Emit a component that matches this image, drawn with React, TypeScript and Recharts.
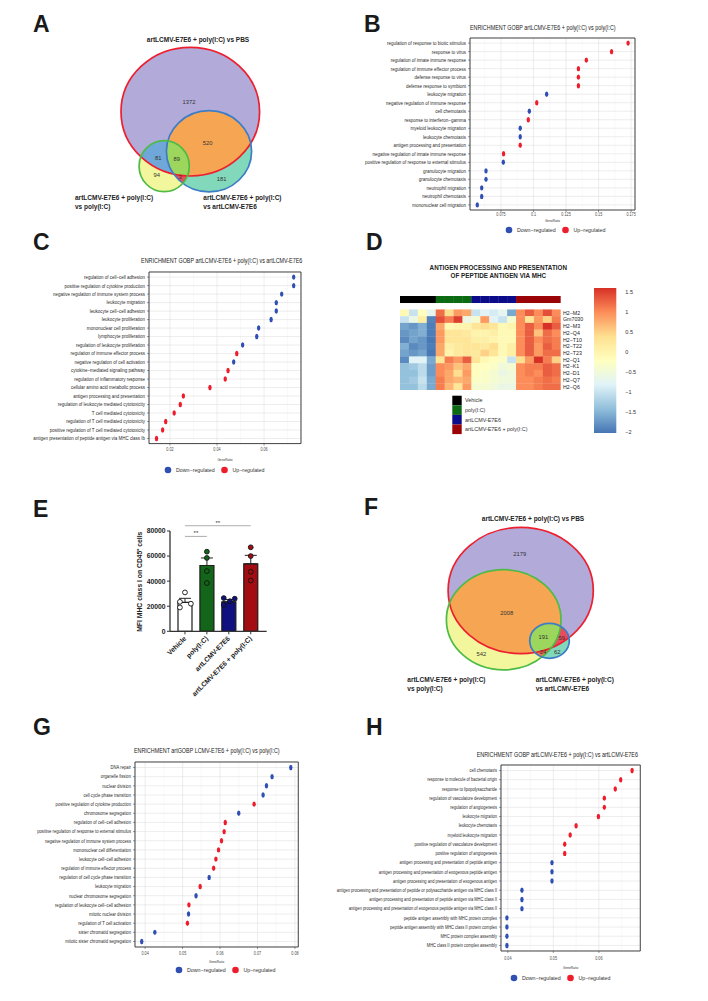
import React from "react";
import {
  ScatterChart,
  Scatter,
  ComposedChart,
  Bar,
  Cell,
  ErrorBar,
  XAxis,
  YAxis,
  CartesianGrid,
  ReferenceArea,
  ReferenceLine,
  Legend,
} from "recharts";

const SANS = "'Liberation Sans', Arial, Helvetica, sans-serif";
const NARROW_SCALE = 0.82;
const BLUE = "#2f4fb3";
const RED = "#ee1d2c";

// ---------- A / F venn counts ----------
const aCounts = [1372, 520, 81, 89, 94, 3, 181];
const fCounts = [2179, 2008, 542, 191, 59, 24, 62];

// ---------- B ----------
const bTerms = [
  "regulation of response to biotic stimulus",
  "response to virus",
  "regulation of innate immune response",
  "regulation of immune effector process",
  "defense response to virus",
  "defense response to symbiont",
  "leukocyte migration",
  "negative regulation of immune response",
  "cell chemotaxis",
  "response to interferon−gamma",
  "myeloid leukocyte migration",
  "leukocyte chemotaxis",
  "antigen processing and presentation",
  "negative regulation of innate immune response",
  "positive regulation of response to external stimulus",
  "granulocyte migration",
  "granulocyte chemotaxis",
  "neutrophil migration",
  "neutrophil chemotaxis",
  "mononuclear cell migration",
];
const bRatio = [0.1727, 0.16, 0.1406, 0.1345, 0.1345, 0.1345, 0.1101, 0.1025, 0.0968, 0.096, 0.0898, 0.0898, 0.0898, 0.077, 0.0768, 0.0635, 0.0635, 0.0602, 0.0602, 0.0568];
const bDir = ["U", "U", "U", "U", "U", "U", "D", "U", "D", "U", "D", "D", "U", "U", "D", "D", "D", "D", "D", "D"];

// ---------- C ----------
const cTerms = [
  "regulation of cell−cell adhesion",
  "positive regulation of cytokine production",
  "negative regulation of immune system process",
  "leukocyte migration",
  "leukocyte cell−cell adhesion",
  "leukocyte proliferation",
  "mononuclear cell proliferation",
  "lymphocyte proliferation",
  "regulation of leukocyte proliferation",
  "regulation of immune effector process",
  "negative regulation of cell activation",
  "cytokine−mediated signaling pathway",
  "regulation of inflammatory response",
  "cellular amino acid metabolic process",
  "antigen processing and presentation",
  "regulation of leukocyte mediated cytotoxicity",
  "T cell mediated cytotoxicity",
  "regulation of T cell mediated cytotoxicity",
  "positive regulation of T cell mediated cytotoxicity",
  "antigen presentation of peptide antigen via MHC class Ib",
];
const cRatio = [0.0726, 0.0726, 0.0675, 0.0652, 0.0652, 0.063, 0.0577, 0.0569, 0.0509, 0.0484, 0.0471, 0.0447, 0.0435, 0.037, 0.0257, 0.0244, 0.0218, 0.0182, 0.0169, 0.0143];
const cDir = ["D", "D", "D", "D", "D", "D", "D", "D", "D", "U", "D", "U", "U", "U", "U", "U", "U", "U", "U", "U"];

// ---------- G ----------
const gTerms = [
  "DNA repair",
  "organelle fission",
  "nuclear division",
  "cell cycle phase transition",
  "positive regulation of cytokine production",
  "chromosome segregation",
  "regulation of cell−cell adhesion",
  "positive regulation of response to external stimulus",
  "negative regulation of immune system process",
  "mononuclear cell differentiation",
  "leukocyte cell−cell adhesion",
  "regulation of immune effector process",
  "regulation of cell cycle phase transition",
  "leukocyte migration",
  "nuclear chromosome segregation",
  "regulation of leukocyte cell−cell adhesion",
  "mitotic nuclear division",
  "regulation of T cell activation",
  "sister chromatid segregation",
  "mitotic sister chromatid segregation",
];
const gRatio = [0.0789, 0.0739, 0.0724, 0.0715, 0.0691, 0.065, 0.0614, 0.0611, 0.0604, 0.0596, 0.0589, 0.0583, 0.0571, 0.0547, 0.0536, 0.0517, 0.0516, 0.0513, 0.0426, 0.0391];
const gDir = ["D", "D", "D", "D", "U", "D", "U", "U", "U", "U", "U", "U", "D", "U", "D", "U", "D", "U", "D", "D"];

// ---------- H ----------
const hTerms = [
  "cell chemotaxis",
  "response to molecule of bacterial origin",
  "response to lipopolysaccharide",
  "regulation of vasculature development",
  "regulation of angiogenesis",
  "leukocyte migration",
  "leukocyte chemotaxis",
  "myeloid leukocyte migration",
  "positive regulation of vasculature development",
  "positive regulation of angiogenesis",
  "antigen processing and presentation of peptide antigen",
  "antigen processing and presentation of exogenous peptide antigen",
  "antigen processing and presentation of exogenous antigen",
  "antigen processing and presentation of peptide or polysaccharide antigen via MHC class II",
  "antigen processing and presentation of peptide antigen via MHC class II",
  "antigen processing and presentation of exogenous peptide antigen via MHC class II",
  "peptide antigen assembly with MHC protein complex",
  "peptide antigen assembly with MHC class II protein complex",
  "MHC protein complex assembly",
  "MHC class II protein complex assembly",
];
const hRatio = [0.0673, 0.0648, 0.0636, 0.0612, 0.0612, 0.0599, 0.055, 0.0537, 0.0525, 0.0525, 0.0497, 0.0497, 0.0497, 0.0431, 0.0431, 0.0431, 0.0398, 0.0398, 0.0398, 0.0398];
const hDir = ["U", "U", "U", "U", "U", "U", "U", "U", "U", "U", "D", "D", "D", "D", "D", "D", "D", "D", "D", "D"];

// ---------- D heatmap ----------
const hmGenes = ["H2−M2", "Gm7030", "H2−M3", "H2−Q4", "H2−T10", "H2−T22", "H2−T23", "H2−Q1", "H2−K1", "H2−D1", "H2−Q7", "H2−Q6"];
const hmGroups = ["Vehicle", "poly(I:C)", "artLCMV-E7E6", "artLCMV-E7E6 + poly(I:C)"];
const hmColGroup = [0, 0, 0, 0, 1, 1, 1, 1, 2, 2, 2, 2, 2, 3, 3, 3, 3, 3];
const hmValues = [
  [-0.1, -1.0, -0.2, -0.7, 1.2, 0.4, 0.9, 0.8, -1.0, -0.8, -0.9, -0.7, -1.6, 1.0, 1.3, 1.0, 1.4, 1.0],
  [-1.0, -0.6, 0.1, -1.9, 1.4, 1.1, 1.5, -0.6, -0.4, 0.9, -0.8, -1.0, -0.4, 1.0, 0.3, 0.9, 0.5, 1.1],
  [-1.65, -1.75, -1.55, -1.95, 0.8, -0.1, 0.0, 0.0, 0.3, 0.4, 0.3, -0.1, 0.0, 1.0, 1.3, 1.0, 1.6, 1.3],
  [-1.75, -1.65, -1.55, -1.95, 0.9, 0.3, 0.3, 0.2, 0.0, 0.0, 0.1, -0.1, -0.1, 1.0, 1.3, 0.6, 1.2, 1.0],
  [-1.85, -1.65, -1.75, -2.0, 0.9, 0.3, 0.3, 0.3, 0.1, 0.1, 0.0, -0.1, -0.1, 1.0, 1.3, 1.0, 1.2, 1.1],
  [-1.55, -1.85, -1.75, -1.95, 0.8, 0.1, 0.2, 0.3, 0.3, 0.2, 0.4, -0.1, 0.1, 1.0, 1.3, 0.9, 1.3, 1.1],
  [-1.65, -1.75, -1.65, -2.0, 0.8, 0.0, 0.2, 0.3, 0.2, 0.5, 0.3, -0.1, 0.1, 1.0, 1.3, 0.9, 1.2, 1.2],
  [-1.85, -0.8, -0.8, -1.6, 0.3, 1.1, 0.9, 1.3, 0.3, -0.1, -0.2, -0.3, -1.0, 0.4, 0.9, 1.6, 1.1, 0.5],
  [-1.4, -1.3, -1.1, -1.7, 1.0, 0.9, 0.6, 0.8, -0.2, -0.2, -0.3, -0.5, -0.4, 1.0, 1.1, 1.1, 1.3, 1.2],
  [-1.4, -1.4, -1.1, -1.7, 1.0, 0.8, 0.4, 0.9, -0.2, -0.3, -0.4, -0.6, -0.5, 1.0, 1.1, 1.0, 1.3, 1.2],
  [-1.4, -1.3, -1.0, -1.6, 1.1, 0.8, 0.7, 0.8, -0.3, -0.3, -0.4, -0.5, -0.5, 1.0, 1.0, 1.1, 1.2, 1.1],
  [-1.4, -1.4, -1.1, -1.6, 1.1, 0.7, 0.3, 0.9, -0.4, -0.4, -0.5, -0.6, -0.6, 1.0, 1.0, 1.1, 1.2, 1.2],
];
const hmScaleTicks = [1.5, 1, 0.5, 0, -0.5, -1, -1.5, -2];

// ---------- E ----------
const eGroups = ["Vehicle", "poly(I:C)", "artLCMV-E7E6", "artLCMV-E7E6 + poly(I:C)"];
const eMean = [23000, 52500, 23500, 53800];
const eSem = [3300, 6000, 1800, 6800];
const eVehicle = [31000, 23500, 22000, 19000];
const ePoly = [63500, 58500, 48000, 38500];
const eArt = [26500, 26000, 24000, 21000];
const eCombo = [67000, 60000, 47500, 40500];
const eYTicks = [0, 20000, 40000, 60000, 80000];
const eSigFrom = [0, 0];
const eSigTo = [1, 3];
const eSigY = [75700, 84200];
const eSigText = ["**", "**"];

// ---------- styling / layout ----------
const HM_PAL = ["#4575B4", "#91BFDB", "#E0F3F8", "#FFFFBF", "#FEE090", "#FC8D59", "#D73027"];
const HM_LO = -2.025;
const HM_HI = 1.6;
const HM_GROUP_COLORS = ["#000000", "#0b6a12", "#0c0c8a", "#9b0406"];
const E_COLORS = ["#ffffff", "#136619", "#10107e", "#a30d12"];
const E_JITTER = [
  [0, -0.23, 0.27, -0.23],
  [0, 0, 0, 0],
  [-0.23, 0.27, 0.05, -0.23],
  [0, 0, 0, 0],
];

function hexToRgb(h: string) {
  const n = parseInt(h.slice(1), 16);
  return [(n >> 16) & 255, (n >> 8) & 255, n & 255];
}
function hmColor(v: number) {
  const t = Math.max(0, Math.min(1, (v - HM_LO) / (HM_HI - HM_LO))) * (HM_PAL.length - 1);
  const i = Math.min(HM_PAL.length - 2, Math.floor(t));
  const f = t - i;
  const a = hexToRgb(HM_PAL[i]);
  const b = hexToRgb(HM_PAL[i + 1]);
  const c = a.map((x, k) => Math.round(x + (b[k] - x) * f));
  return `rgb(${c[0]},${c[1]},${c[2]})`;
}
const minus = (v: number) => (v < 0 ? "−" + Math.abs(v) : String(v));

// condensed text: no narrow font installed, so squeeze a regular one
function NarrowText({ x, y, dy = 0, anchor = "start", size, fill = "#333", children }: any) {
  return (
    <text
      transform={`translate(${x},${y}) scale(${NARROW_SCALE},1)`}
      dy={dy}
      textAnchor={anchor}
      fontSize={size}
      fill={fill}
      fontFamily={SANS}
    >
      {children}
    </text>
  );
}

// ---------- Venn ----------
type Ell = { x: number; y: number; rx: number; ry: number };
const V_PURPLE = "#b2aad9";
const V_ORANGE = "#f6a653";
const V_SKY = "#6fa7d8";
const V_LGREEN = "#9dd65c";
const V_YELLOW = "#f2f69d";
const V_TEAL = "#82d8ba";
const V_PINK = "#e94c5c";
const V_CORAL = "#ea7550";

const A_ELL: Record<string, Ell> = {
  red: { x: 190.3, y: 111.7, rx: 69.3, ry: 64.3 },
  blue: { x: 209, y: 151.3, rx: 42.6, ry: 40.6 },
  green: { x: 164.2, y: 166.2, rx: 25.1, ry: 25.5 },
};
const A_LAYERS = [
  { base: "red", clips: [], fill: V_PURPLE },
  { base: "blue", clips: [], fill: V_TEAL },
  { base: "blue", clips: ["red"], fill: V_ORANGE },
  { base: "green", clips: [], fill: V_YELLOW },
  { base: "green", clips: ["red"], fill: V_SKY },
  { base: "green", clips: ["blue"], fill: V_PINK },
  { base: "green", clips: ["blue", "red"], fill: V_LGREEN },
];
const A_POS = [[189, 101.7], [207.7, 143.3], [158.3, 157.7], [176.7, 159], [156.7, 175], [180, 176.7], [221.7, 179.3]];

const F_ELL: Record<string, Ell> = {
  red: { x: 166.7, y: 120.5, rx: 72.6, ry: 63.1 },
  green: { x: 149.7, y: 149.8, rx: 57.3, ry: 50.1 },
  blue: { x: 195.5, y: 170.8, rx: 19.8, ry: 17.5 },
};
const F_LAYERS = [
  { base: "red", clips: [], fill: V_PURPLE },
  { base: "green", clips: [], fill: V_YELLOW },
  { base: "green", clips: ["red"], fill: V_ORANGE },
  { base: "blue", clips: [], fill: V_TEAL },
  { base: "blue", clips: ["red"], fill: V_PINK },
  { base: "blue", clips: ["green"], fill: V_CORAL },
  { base: "blue", clips: ["green", "red"], fill: V_LGREEN },
];
const F_POS = [[165.7, 84.3], [152.7, 142.7], [127.3, 184.3], [189.3, 167.3], [207.7, 168.3], [189, 182.3], [203.3, 182]];
const V_STROKE: Record<string, string> = { red: "#ed1f2e", blue: "#3d7dc6", green: "#4dbb46" };

const VennFill = (p: any) => {
  const d = p.payload;
  const dx = p.cx - d.x;
  const dy = p.cy - d.y;
  let node: any = <ellipse cx={p.cx} cy={p.cy} rx={d.rx} ry={d.ry} fill={d.fill} />;
  d.clipEls.forEach((_c: Ell, k: number) => {
    node = <g clipPath={`url(#${d.key}-${k})`}>{node}</g>;
  });
  return (
    <g>
      <defs>
        {d.clipEls.map((c: Ell, k: number) => (
          <clipPath id={`${d.key}-${k}`} key={k}>
            <ellipse cx={c.x + dx} cy={c.y + dy} rx={c.rx} ry={c.ry} />
          </clipPath>
        ))}
      </defs>
      {node}
    </g>
  );
};
const VennStroke = (p: any) => (
  <ellipse cx={p.cx} cy={p.cy} rx={p.payload.rx} ry={p.payload.ry} fill="none" stroke={p.payload.stroke} strokeWidth={1.7} />
);
const VennCount = (p: any) => (
  <text x={p.cx} y={p.cy} dy={2} textAnchor="middle" fontSize={5.8} fill="#333" fontFamily={SANS}>
    {p.payload.c}
  </text>
);

function Venn({ id, left, top, ells, layers, strokes, counts, pos }: any) {
  const w = 354;
  const h = 230;
  const fillData = layers.map((l: any, k: number) => ({
    ...ells[l.base],
    fill: l.fill,
    clipEls: l.clips.map((c: string) => ells[c]),
    key: `${id}-L${k}`,
  }));
  const strokeData = strokes.map((s: string) => ({ ...ells[s], stroke: V_STROKE[s] }));
  const countData = counts.map((c: number, k: number) => ({ x: pos[k][0], y: pos[k][1], c }));
  return (
    <div style={{ position: "absolute", left, top }}>
      <ScatterChart width={w} height={h} margin={{ top: 0, right: 0, bottom: 0, left: 0 }}>
        <XAxis type="number" dataKey="x" domain={[0, w]} hide allowDataOverflow />
        <YAxis type="number" dataKey="y" domain={[0, h]} reversed hide allowDataOverflow />
        <Scatter data={fillData} shape={VennFill} isAnimationActive={false} />
        <Scatter data={strokeData} shape={VennStroke} isAnimationActive={false} />
        <Scatter data={countData} shape={VennCount} isAnimationActive={false} />
      </ScatterChart>
    </div>
  );
}

// ---------- dot plots ----------
type DotCfg = {
  terms: string[];
  ratios: number[];
  dirs: string[];
  px: number;
  py: number;
  pw: number;
  ph: number;
  labelW: number;
  domain: [number, number];
  ticks: number[];
  minor: number[];
  fs: number;
  tickOff: number;
  labelOff: number;
  legend: [number, number];
};

const LegendSvg = ({ payload }: any) => (
  <svg width={120} height={10} style={{ display: "block", overflow: "visible" }}>
    {(payload || []).map((e: any, k: number) => (
      <g key={k} transform={`translate(${4 + k * 56.5},5)`}>
        <circle r={3.3} fill={e.color} />
        <text x={8} y={1.9} fontSize={5.3} fill="#333" fontFamily={SANS}>
          {e.value}
        </text>
      </g>
    ))}
  </svg>
);

const Dot = (p: any) => <ellipse cx={p.cx} cy={p.cy} rx={1.7} ry={2.7} fill={p.fill} />;

function DotPanel({ cfg }: { cfg: DotCfg }) {
  const { terms, ratios, dirs, px, py, pw, ph, labelW, domain, ticks, minor, fs, tickOff, labelOff, legend } = cfg;
  const n = terms.length;
  const rows = terms.map((_t, i) => ({ i, x: ratios[i], dir: dirs[i] }));
  const mt = 4;
  const mr = 4;
  const axisH = labelOff + 2;
  const left = px - labelW;
  const top = py - mt;
  const W = labelW + pw + mr;
  const H = mt + ph + axisH;
  return (
    <div style={{ position: "absolute", left, top }}>
      <ScatterChart width={W} height={H} margin={{ top: mt, right: mr, bottom: 0, left: 0 }}>
        <CartesianGrid xAxisId="minor" horizontal={false} stroke="#efefef" strokeWidth={0.4} />
        <CartesianGrid stroke="#e0e0e0" strokeWidth={0.6} />
        <XAxis xAxisId="minor" type="number" dataKey="x" domain={domain} ticks={minor} interval={0} allowDataOverflow hide />
        <XAxis
          type="number"
          dataKey="x"
          domain={domain}
          ticks={ticks}
          interval={0}
          allowDataOverflow
          height={axisH}
          axisLine={false}
          tickSize={2}
          tickMargin={Math.max(0, tickOff - 3.8)}
          tickLine={{ stroke: "#333", strokeWidth: 0.5 }}
          tick={(p: any) => (
            <NarrowText x={p.x} y={p.y} dy={3.4} anchor="middle" size={4.6} fill="#4d4d4d">
              {String(p.payload.value)}
            </NarrowText>
          )}
          label={(p: any) => {
            const vb = p.viewBox;
            return (
              <NarrowText x={vb.x + vb.width / 2} y={vb.y + vb.height} dy={-0.6} anchor="middle" size={3.9} fill="#333">
                GeneRatio
              </NarrowText>
            );
          }}
        />
        <YAxis
          type="number"
          dataKey="i"
          domain={[-0.6, n - 0.4]}
          reversed
          allowDataOverflow
          ticks={rows.map((r) => r.i)}
          interval={0}
          width={labelW}
          axisLine={false}
          tickSize={2}
          tickLine={{ stroke: "#333", strokeWidth: 0.5 }}
          tick={(p: any) => (
            <NarrowText x={p.x} y={p.y} dy={fs * 0.35} anchor="end" size={fs} fill="#2a2a2a">
              {terms[p.payload.value]}
            </NarrowText>
          )}
        />
        <ReferenceArea x1={domain[0]} x2={domain[1]} y1={-0.6} y2={n - 0.4} fill="none" fillOpacity={0} stroke="#333" strokeWidth={0.9} ifOverflow="visible" />
        <Scatter name="Down−regulated" data={rows.filter((r) => r.dir === "D")} fill={BLUE} shape={Dot} isAnimationActive={false} />
        <Scatter name="Up−regulated" data={rows.filter((r) => r.dir === "U")} fill={RED} shape={Dot} isAnimationActive={false} />
        <Legend
          layout="horizontal"
          verticalAlign="middle"
          align="center"
          wrapperStyle={{ left: legend[0] - 4 - left, top: legend[1] - 5 - top, width: 120, height: 10 }}
          content={(p: any) => <LegendSvg payload={p.payload} />}
        />
      </ScatterChart>
    </div>
  );
}

const DOTS: DotCfg[] = [
  { terms: bTerms, ratios: bRatio, dirs: bDir, px: 470, py: 38, pw: 165, ph: 172, labelW: 115, domain: [0.0512, 0.178], ticks: [0.075, 0.1, 0.125, 0.15, 0.175], minor: [0.0625, 0.0875, 0.1125, 0.1375, 0.1625], fs: 5.5, tickOff: 4.3, labelOff: 11, legend: [509, 230] },
  { terms: cTerms, ratios: cRatio, dirs: cDir, px: 149, py: 271.7, pw: 152, ph: 171.6, labelW: 125, domain: [0.0111, 0.0757], ticks: [0.02, 0.04, 0.06], minor: [0.03, 0.05, 0.07], fs: 5.45, tickOff: 5.6, labelOff: 15.6, legend: [168.3, 470] },
  { terms: gTerms, ratios: gRatio, dirs: gDir, px: 135, py: 761.7, pw: 163.3, ph: 185, labelW: 112, domain: [0.0373, 0.0809], ticks: [0.04, 0.05, 0.06, 0.07, 0.08], minor: [0.045, 0.055, 0.065, 0.075], fs: 5.1, tickOff: 6.6, labelOff: 14.3, legend: [179.3, 970] },
  { terms: hTerms, ratios: hRatio, dirs: hDir, px: 500.7, py: 765, pw: 139.3, ph: 186, labelW: 185, domain: [0.0385, 0.0691], ticks: [0.04, 0.05, 0.06], minor: [0.045, 0.055, 0.065], fs: 4.9, tickOff: 7.3, labelOff: 16.7, legend: [514, 977.7] },
];

// ---------- D heatmap ----------
const HM_W = 160.7;
const HM_H = 94.1;
const HM_CW = HM_W / 18;
const HM_CH = HM_H / 14;
const HmCell = (p: any) => (
  <rect x={p.cx - HM_CW / 2} y={p.cy - HM_CH / 2} width={HM_CW + 0.3} height={HM_CH + 0.3} fill={p.payload.color} />
);

function Heatmap() {
  const cells = hmValues.flatMap((row, r) => row.map((v, c) => ({ x: c + 0.5, y: r + 0.5, color: hmColor(v) })));
  const bar = hmColGroup.map((g, c) => ({ x: c + 0.5, y: -1.5, color: HM_GROUP_COLORS[g] }));
  return (
    <>
      <div style={{ position: "absolute", left: 400, top: 295.9 }}>
        <ScatterChart width={HM_W + 40} height={HM_H} margin={{ top: 0, right: 0, bottom: 0, left: 0 }}>
          <XAxis type="number" dataKey="x" domain={[0, 18]} hide allowDataOverflow />
          <YAxis
            type="number"
            dataKey="y"
            domain={[-2, 12]}
            reversed
            allowDataOverflow
            orientation="right"
            width={40}
            ticks={hmGenes.map((_g, i) => i + 0.5)}
            interval={0}
            tickFormatter={(v: number) => hmGenes[Math.floor(v)]}
            axisLine={false}
            tickLine={false}
            tickSize={0}
            tickMargin={2.3}
            tick={{ fontSize: 5.3, fill: "#222", fontFamily: SANS }}
          />
          <Scatter data={cells} shape={HmCell} isAnimationActive={false} />
          <Scatter data={bar} shape={HmCell} isAnimationActive={false} />
        </ScatterChart>
      </div>
      <div style={{ position: "absolute", left: 594, top: 281.7 }}>
        <ComposedChart width={50} height={157} margin={{ top: 6, right: 0, bottom: 6, left: 0 }}>
          <defs>
            <linearGradient id="hmGrad" x1="0" y1="0" x2="0" y2="1">
              {HM_PAL.slice()
                .reverse()
                .map((c, k) => (
                  <stop key={k} offset={`${(k / (HM_PAL.length - 1)) * 100}%`} stopColor={c} />
                ))}
            </linearGradient>
          </defs>
          <XAxis type="number" dataKey="x" domain={[0, 1]} hide allowDataOverflow />
          <YAxis
            type="number"
            domain={[HM_LO, HM_HI]}
            allowDataOverflow
            orientation="right"
            width={27.7}
            ticks={hmScaleTicks}
            interval={0}
            tickFormatter={minus}
            axisLine={false}
            tickLine={false}
            tickSize={0}
            tickMargin={9}
            tick={{ fontSize: 5.5, fill: "#333", fontFamily: SANS }}
          />
          <ReferenceArea x1={0} x2={1} y1={HM_LO} y2={HM_HI} fill="url(#hmGrad)" fillOpacity={1} stroke="none" ifOverflow="visible" />
        </ComposedChart>
      </div>
    </>
  );
}

// ---------- E bars ----------
const E_PAD_L = 4;
const E_PAD_R = 5;
const E_PLOT_W = 96.7;

function BarPanel() {
  const bars = eGroups.map((name, i) => ({ name, mean: eMean[i], err: [0, eSem[i]] }));
  const pts = [eVehicle, ePoly, eArt, eCombo].flatMap((vals, g) =>
    vals.map((v, k) => ({ x: g + E_JITTER[g][k], v, g }))
  );
  // numeric axis matching the category band centres, used for jittered points and brackets
  const band = (E_PLOT_W - E_PAD_L - E_PAD_R) / eGroups.length;
  const numDomain = [-0.5 - E_PAD_L / band, eGroups.length - 0.5 + E_PAD_R / band];
  const PointShape = (p: any) => (
    <circle cx={p.cx} cy={p.cy} r={2.4} fill={E_COLORS[p.payload.g]} stroke="#111" strokeWidth={0.9} />
  );
  return (
    <div style={{ position: "absolute", left: 100, top: 505 }}>
      <ComposedChart width={180} height={201.3} data={bars} margin={{ top: 26, right: 13.3, bottom: 0, left: 40 }}>
        <XAxis
          type="category"
          dataKey="name"
          padding={{ left: E_PAD_L, right: E_PAD_R }}
          interval={0}
          height={75}
          axisLine={{ stroke: "#333", strokeWidth: 1.3 }}
          tickLine={{ stroke: "#333", strokeWidth: 1 }}
          tickSize={3}
          tickMargin={3}
          tick={(p: any) => (
            <text
              x={p.x}
              y={p.y}
              dy={2.4}
              transform={`rotate(-45 ${p.x} ${p.y})`}
              textAnchor="end"
              fontSize={6.8}
              fontWeight="bold"
              fill="#222"
              fontFamily={SANS}
            >
              {p.payload.value}
            </text>
          )}
        />
        <XAxis xAxisId="num" type="number" dataKey="x" domain={numDomain} hide allowDataOverflow />
        <YAxis
          type="number"
          domain={[0, 80000]}
          allowDataOverflow
          ticks={eYTicks}
          interval={0}
          width={30}
          axisLine={{ stroke: "#333", strokeWidth: 1.3 }}
          tickLine={{ stroke: "#333", strokeWidth: 1 }}
          tickSize={3}
          tickMargin={1.5}
          tick={{ fontSize: 6.8, fontWeight: "bold", fill: "#222", fontFamily: SANS }}
        />
        <Bar dataKey="mean" barSize={14} stroke="#1a1a1a" strokeWidth={1.2} isAnimationActive={false}>
          {bars.map((_b, i) => (
            <Cell key={i} fill={E_COLORS[i]} />
          ))}
          <ErrorBar dataKey="err" width={6} stroke="#222" strokeWidth={1} direction="y" />
        </Bar>
        <Scatter xAxisId="num" data={pts} dataKey="v" shape={PointShape} isAnimationActive={false} />
        {eSigFrom.map((f, k) => (
          <ReferenceLine
            key={k}
            xAxisId="num"
            segment={[
              { x: f, y: eSigY[k] },
              { x: eSigTo[k], y: eSigY[k] },
            ]}
            stroke="#8a8a8a"
            strokeWidth={0.7}
            ifOverflow="visible"
            label={{ value: eSigText[k], position: "top", offset: 1, fontSize: 6, fill: "#333", fontFamily: SANS }}
          />
        ))}
      </ComposedChart>
    </div>
  );
}

// ---------- static text overlay ----------
function Overlay() {
  const letters: [string, number, number][] = [
    ["A", 33, 31.7],
    ["B", 364, 31.7],
    ["C", 33, 250],
    ["D", 366, 250],
    ["E", 33, 516.7],
    ["F", 364, 515],
    ["G", 33, 735],
    ["H", 366, 735],
  ];
  const dotTitles: [string, number, number][] = [
    ["ENRICHMENT GOBP artLCMV-E7E6 + poly(I:C) vs poly(I:C)", 542.8, 30.4],
    ["ENRICHMENT GOBP artLCMV-E7E6 + poly(I:C) vs artLCMV-E7E6", 221.7, 263],
    ["ENRICHMENT artGOBP LCMV-E7E6 + poly(I:C) vs poly(I:C)", 206.8, 753],
    ["ENRICHMENT GOBP artLCMV-E7E6 + poly(I:C) vs artLCMV-E7E6", 557.3, 756.7],
  ];
  const venn: [string, number, number, string][] = [
    ["artLCMV-E7E6 + poly(I:C) vs PBS", 198, 42.3, "middle"],
    ["artLCMV-E7E6 + poly(I:C)", 75, 200, "start"],
    ["vs poly(I:C)", 75, 209, "start"],
    ["artLCMV-E7E6 + poly(I:C)", 203.3, 200.3, "start"],
    ["vs artLCMV-E7E6", 203.3, 209.3, "start"],
    ["artLCMV-E7E6 + poly(I:C) vs PBS", 533, 520.6, "middle"],
    ["artLCMV-E7E6 + poly(I:C)", 407.3, 682.3, "start"],
    ["vs poly(I:C)", 407.3, 691.3, "start"],
    ["artLCMV-E7E6 + poly(I:C)", 535.7, 682.3, "start"],
    ["vs artLCMV-E7E6", 535.7, 691.3, "start"],
  ];
  return (
    <svg width={708} height={1001} style={{ position: "absolute", left: 0, top: 0, pointerEvents: "none" }}>
      {letters.map(([t, x, y]) => (
        <text key={t} x={x} y={y} fontSize={23} fontWeight="bold" fill="#1a1a1a" fontFamily={SANS}>
          {t}
        </text>
      ))}
      {dotTitles.map(([t, x, y], k) => (
        <NarrowText key={k} x={x} y={y} anchor="middle" size={6.6} fill="#222">
          {t}
        </NarrowText>
      ))}
      {venn.map(([t, x, y, a], k) => (
        <text key={k} x={x} y={y} textAnchor={a as any} fontSize={6.5} fontWeight="bold" fill="#222" fontFamily={SANS}>
          {t}
        </text>
      ))}
      <text x={498.3} y={269.5} textAnchor="middle" fontSize={6.3} fontWeight="bold" fill="#222" fontFamily={SANS}>
        ANTIGEN PROCESSING AND PRESENTATION
      </text>
      <text x={498.3} y={278.2} textAnchor="middle" fontSize={6.3} fontWeight="bold" fill="#222" fontFamily={SANS}>
        OF PEPTIDE ANTIGEN VIA MHC
      </text>
      {hmGroups.map((g, k) => (
        <g key={g}>
          <rect x={452.3} y={395.7 + k * 9.6} width={9.4} height={9.6} fill={HM_GROUP_COLORS[k]} />
          <text x={465} y={395.7 + k * 9.6 + 6.7} fontSize={5.4} fill="#333" fontFamily={SANS}>
            {g}
          </text>
        </g>
      ))}
      <text transform="translate(142.4,581.7) rotate(-90)" textAnchor="middle" fontSize={6.8} fontWeight="bold" fill="#222" fontFamily={SANS}>
        MFI MHC class I on CD45⁺ cells
      </text>
    </svg>
  );
}

export default function App() {
  return (
    <div style={{ position: "absolute", left: 0, top: 0, width: 708, height: 1001, background: "#fff", overflow: "hidden" }}>
      <Venn id="va" left={0} top={0} ells={A_ELL} layers={A_LAYERS} strokes={["red", "blue", "green"]} counts={aCounts} pos={A_POS} />
      <Venn id="vf" left={354} top={470} ells={F_ELL} layers={F_LAYERS} strokes={["red", "green", "blue"]} counts={fCounts} pos={F_POS} />
      {DOTS.map((cfg, k) => (
        <DotPanel key={k} cfg={cfg} />
      ))}
      <Heatmap />
      <BarPanel />
      <Overlay />
    </div>
  );
}
